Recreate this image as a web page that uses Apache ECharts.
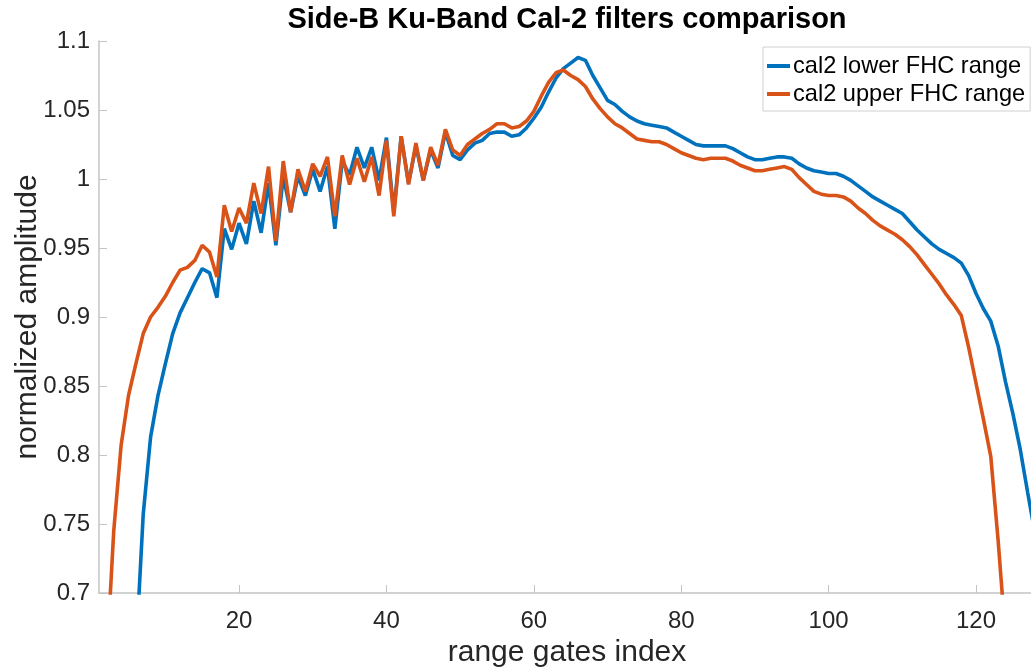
<!DOCTYPE html>
<html>
<head>
<meta charset="utf-8">
<script src="https://cdn.jsdelivr.net/npm/echarts@6/dist/echarts.min.js"></script>
<style>html,body{margin:0;padding:0;background:#fff}#c{width:1031px;height:668px}</style>
</head>
<body>
<div id="c"></div>
<script>
var titleText = 'Side-B Ku-Band Cal-2 filters comparison';
var xName = 'range gates index';
var yName = 'normalized amplitude';
var seriesNames = ['cal2 lower FHC range', 'cal2 upper FHC range'];
var xTicks = [20, 40, 60, 80, 100, 120];

// range gate index 1..128
var gates = [];
for (var i = 1; i <= 128; i++) gates.push(i);

var lowerFHC = [
  0.35, 0.42, 0.48, 0.53, 0.58, 0.656, 0.757, 0.813, 0.843, 0.866,
  0.888, 0.903, 0.914, 0.925, 0.935, 0.932, 0.914, 0.964, 0.949, 0.968,
  0.953, 0.984, 0.961, 0.997, 0.952, 1.002, 0.976, 1.002, 0.988, 1.007,
  0.991, 1.009, 0.964, 1.013, 1.003, 1.023, 1.008, 1.023, 0.999, 1.030,
  0.976, 1.031, 0.997, 1.024, 0.999, 1.021, 1.008, 1.034, 1.017, 1.014,
  1.021, 1.026, 1.028, 1.033, 1.034, 1.034, 1.031, 1.032, 1.037, 1.044,
  1.052, 1.063, 1.073, 1.080, 1.084, 1.088, 1.086, 1.075, 1.066, 1.057,
  1.054, 1.049, 1.045, 1.042, 1.040, 1.039, 1.038, 1.037, 1.034, 1.031,
  1.028, 1.025, 1.024, 1.024, 1.024, 1.024, 1.022, 1.019, 1.016, 1.014,
  1.014, 1.015, 1.016, 1.016, 1.015, 1.011, 1.008, 1.006, 1.005, 1.004,
  1.004, 1.002, 0.999, 0.995, 0.991, 0.987, 0.984, 0.981, 0.978, 0.975,
  0.969, 0.963, 0.958, 0.953, 0.949, 0.946, 0.943, 0.939, 0.930, 0.917,
  0.906, 0.897, 0.879, 0.853, 0.830, 0.804, 0.773, 0.743
];

var upperFHC = [
  0.55, 0.647, 0.745, 0.807, 0.843, 0.866, 0.888, 0.900, 0.907, 0.915,
  0.925, 0.934, 0.936, 0.941, 0.952, 0.947, 0.929, 0.981, 0.962, 0.979,
  0.968, 0.997, 0.975, 1.009, 0.955, 1.013, 0.976, 1.007, 0.991, 1.011,
  1.002, 1.016, 0.973, 1.017, 0.996, 1.015, 0.998, 1.016, 0.988, 1.028,
  0.973, 1.031, 0.996, 1.026, 0.999, 1.023, 1.010, 1.036, 1.021, 1.017,
  1.025, 1.029, 1.033, 1.036, 1.040, 1.040, 1.037, 1.038, 1.042, 1.049,
  1.060, 1.070, 1.077, 1.079, 1.075, 1.072, 1.067, 1.058, 1.051, 1.045,
  1.040, 1.037, 1.033, 1.029, 1.028, 1.027, 1.027, 1.025, 1.022, 1.019,
  1.017, 1.015, 1.014, 1.015, 1.015, 1.015, 1.013, 1.010, 1.008, 1.006,
  1.006, 1.007, 1.008, 1.009, 1.007, 1.001, 0.996, 0.991, 0.989, 0.988,
  0.988, 0.987, 0.984, 0.979, 0.975, 0.970, 0.966, 0.963, 0.960, 0.956,
  0.951, 0.945, 0.938, 0.931, 0.924, 0.916, 0.909, 0.901, 0.878, 0.852,
  0.826, 0.799, 0.738, 0.668, 0.58, 0.50, 0.42, 0.35
];

function pairs(ys) {
  return gates.map(function (g, k) { return [g, ys[k]]; });
}

var FONT = '"Liberation Sans", Arial, Helvetica, sans-serif';
var axisGray = '#c4c4c4';
var txt = '#262626';

var chart = echarts.init(document.getElementById('c'), null, {renderer: 'canvas'});
chart.setOption({
  animation: false,
  backgroundColor: '#ffffff',
  title: {
    text: titleText,
    left: 562,
    top: 0,
    textAlign: 'center',
    textStyle: {fontFamily: FONT, fontSize: 29, fontWeight: 'bold', color: '#000'}
  },
  legend: {
    orient: 'vertical',
    left: 763,
    top: 47,
    padding: [7, 5, 5, 4],
    itemGap: 4,
    itemWidth: 23,
    itemHeight: 4,
    icon: 'rect',
    borderColor: '#d0d0d0',
    borderWidth: 1,
    backgroundColor: '#fff',
    textStyle: {fontFamily: FONT, fontSize: 23.6, color: '#000', padding: [0, 0, 0, -2]},
    data: seriesNames
  },
  grid: {left: 99, right: -4, top: 41, bottom: 75, containLabel: false, outerBoundsMode: 'none'},
  xAxis: {
    type: 'value',
    min: 1,
    max: 128,
    name: xName,
    nameLocation: 'middle',
    nameGap: 45,
    nameMoveOverlap: false,
    nameTextStyle: {fontFamily: FONT, fontSize: 30, color: txt},
    axisLine: {show: true, lineStyle: {color: axisGray, width: 1.5}},
    axisTick: {show: true, inside: true, length: 8, customValues: xTicks, lineStyle: {color: axisGray}},
    axisLabel: {customValues: xTicks, fontFamily: FONT, fontSize: 24, color: txt, margin: 16},
    splitLine: {show: false}
  },
  yAxis: {
    type: 'value',
    min: 0.7,
    max: 1.1,
    interval: 0.05,
    name: yName,
    nameLocation: 'middle',
    nameGap: 56,
    nameMoveOverlap: false,
    nameTextStyle: {fontFamily: FONT, fontSize: 30, color: txt},
    axisLine: {show: true, lineStyle: {color: axisGray, width: 1.5}},
    axisTick: {show: true, inside: true, length: 8, lineStyle: {color: axisGray}},
    axisLabel: {
      fontFamily: FONT, fontSize: 24, color: txt, margin: 9,
      formatter: function (v) { return String(+v.toFixed(2)); }
    },
    splitLine: {show: false}
  },
  series: [
    {
      name: seriesNames[0], type: 'line', data: pairs(lowerFHC),
      showSymbol: false, symbol: 'none', clip: true,
      color: '#0072BD', lineStyle: {width: 3.6, color: '#0072BD'}
    },
    {
      name: seriesNames[1], type: 'line', data: pairs(upperFHC),
      showSymbol: false, symbol: 'none', clip: true,
      color: '#D95319', lineStyle: {width: 3.6, color: '#D95319'}
    }
  ]
});
</script>
</body>
</html>
